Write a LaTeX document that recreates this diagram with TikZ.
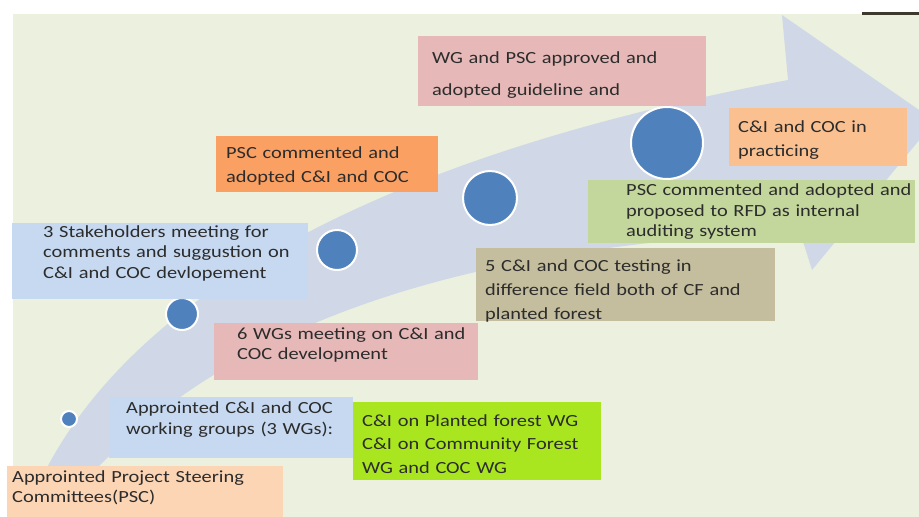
\documentclass[tikz,border=0pt]{standalone}
\usepackage{fontspec}
\setmainfont{Carlito}[FakeStretch=1.2]

\definecolor{backgreen}{HTML}{EBF1DE}
\definecolor{arrowblue}{HTML}{D0D8E8}
\definecolor{dotblue}{HTML}{4F81BD}
\definecolor{textgray}{HTML}{2C2C2C}
\definecolor{rosebox}{HTML}{E6B9B8}
\definecolor{orangebox}{HTML}{F9A062}
\definecolor{skybox}{HTML}{C6D9F1}
\definecolor{limebox}{HTML}{A9E620}
\definecolor{peachbox}{HTML}{FCD5B5}
\definecolor{tanbox}{HTML}{C4BE9E}
\definecolor{olivebox}{HTML}{C3D69B}
\definecolor{apricotbox}{HTML}{FAC090}

\begin{document}
\begin{tikzpicture}[x=1pt,y=-1pt,
    stage/.style={
      % The shape:
      rectangle,anchor=north west,inner sep=0pt,
      % The rest
      align=left,text=textgray,font=\fontsize{17}{20}\selectfont},
    lines/.style={font=\fontsize{17}{#1}\selectfont},
    pad/.style={execute at begin node={\leftskip=#1pt\rightskip=-30pt plus 1fil\relax}},
    lift/.style={execute at end node={\endgraf\vspace*{#1pt}}},
    dot/.style={circle,fill=dotblue,draw=white,line width=2pt,inner sep=0pt}]
  \useasboundingbox (0,0) rectangle (919,517);
  \fill[white] (0,0) rectangle (919,517);
  \fill[backgreen] (13,14) rectangle (919,517);
  \draw[line width=3pt,draw=black!75!olive] (862,13) -- (919,13);
  % the big curved arrow
  \begin{scope}
    \clip (13,14) rectangle (919,517);
    \fill[arrowblue] (25,517) .. controls (100,310) and (360,160) .. (788,80)
      -- (782,15) -- (935,121) -- (812,270) -- (800,232)
      .. controls (480,245) and (210,315) .. (55,517) -- cycle;
  \end{scope}
  % milestones
  \foreach \x/\y/\r [count=\i] in {69/419/8,182/314/16,337/250/20,490/198/27,667/143/36}
    \node[dot,minimum size={2*\r pt}] (dot\i) at (\x,\y) {};
  % stages
  \node[stage,fill=peachbox,minimum width=276pt,minimum height=51pt,text width=276pt,pad=5,lift=8]
    (psc) at (7,466) {Approinted Project Steering\\Committees(PSC)};
  \node[stage,fill=skybox,minimum width=244pt,minimum height=61pt,text width=244pt,pad=17,lift=16,lines=21]
    (workgroups) at (109,397) {Approinted C\&I and COC\\working groups (3 WGs):};
  \node[stage,fill=limebox,minimum width=248pt,minimum height=78pt,text width=248pt,pad=9,lift=-5,lines=23.5]
    (wglist) at (353,402) {C\&I on Planted forest WG\\C\&I on Community Forest\\WG and COC WG};
  \node[stage,fill=rosebox,minimum width=264pt,minimum height=57pt,text width=264pt,pad=23,lift=14]
    (wgmeeting) at (214,323) {6 WGs meeting on C\&I and\\COC development};
  \node[stage,fill=skybox,minimum width=296pt,minimum height=76pt,text width=296pt,pad=31,lift=16,lines=20.5]
    (stakeholders) at (12,223) {3 Stakeholders meeting for\\comments and suggustion on\\C\&I and COC devlopement};
  \node[stage,fill=orangebox,minimum width=222pt,minimum height=56pt,text width=222pt,pad=10,lift=-4,lines=24]
    (adoptedcoc) at (216,136) {PSC commented and\\adopted C\&I and COC};
  \node[stage,fill=tanbox,minimum width=299pt,minimum height=73pt,text width=299pt,pad=9,lift=-12,lines=24]
    (testing) at (476,248) {5 C\&I and COC testing in\\difference field both of CF and\\planted forest};
  \node[stage,fill=rosebox,minimum width=288pt,minimum height=70pt,text width=288pt,pad=14,lift=-8,lines=32]
    (approved) at (418,36) {WG and PSC approved and\\adopted guideline and};
  \node[stage,fill=olivebox,minimum width=327pt,minimum height=63pt,text width=327pt,pad=38,lines=20.5]
    (auditing) at (588,180) {PSC commented and adopted and\\proposed to RFD as internal\\auditing system};
  \node[stage,fill=apricotbox,minimum width=178pt,minimum height=58pt,text width=178pt,pad=9,lift=-6,lines=24]
    (practicing) at (729,108) {C\&I and COC in\\practicing};
\end{tikzpicture}
\end{document}
